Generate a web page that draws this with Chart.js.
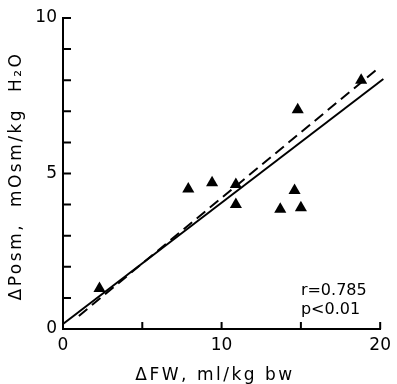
<!DOCTYPE html>
<html>
<head>
<meta charset="utf-8">
<script src="https://cdn.jsdelivr.net/npm/chart.js@4.4.0/dist/chart.umd.min.js"></script>
<style>
  html, body { margin: 0; padding: 0; background: #fff; }
  #wrap { width: 397px; height: 384px; }
</style>
</head>
<body>
<div id="wrap"><canvas id="fwChart"></canvas></div>
<script>
// measured points, delta FW vs delta Posm
var fwX   = [2.3, 7.9, 9.4, 10.9, 10.9, 13.7, 14.6, 15.0, 14.8, 18.8];
var posmY = [1.3, 4.5, 4.7, 4.65, 4.0, 3.85, 4.45, 3.9, 7.05, 8.0];

// regression lines (end points)
var solidX = [0, 20.2];
var solidY = [0.16, 8.04];
var dashX  = [1, 19.9];
var dashY  = [0.42, 8.39];

var xTickLabels = [0, 10, 20];
var yTickLabels = [0, 5, 10];
var statLines = ['r=0.785', 'p<0.01'];
var xTitle = 'ΔFW, ml/kg bw';
var yTitle = 'ΔPosm,  mOsm/kg  H₂O';

function toPts(xs, ys) {
  return xs.map(function (x, i) { return { x: x, y: ys[i] }; });
}

// inward tick marks + titles + r/p text
var extras = {
  id: 'extras',
  afterDraw: function (chart) {
    var ctx = chart.ctx;
    var xs = chart.scales.x, ys = chart.scales.y;
    var left = xs.left, bottom = ys.bottom;
    ctx.save();
    ctx.strokeStyle = '#000';
    ctx.lineWidth = 2;
    ctx.beginPath();
    xs.ticks.forEach(function (t) {
      var px = xs.getPixelForValue(t.value);
      if (t.value === 0) return;
      ctx.moveTo(px, bottom);
      ctx.lineTo(px, bottom - 7);
    });
    ys.ticks.forEach(function (t) {
      var py = ys.getPixelForValue(t.value);
      if (t.value === 0) return;
      ctx.moveTo(left, py);
      ctx.lineTo(left + 8, py);
    });
    ctx.stroke();

    ctx.fillStyle = '#000';
    ctx.font = '16px "DejaVu Sans"';
    ctx.textAlign = 'left';
    ctx.textBaseline = 'middle';
    ctx.fillText(statLines[0], xs.getPixelForValue(15.0), ys.getPixelForValue(1.24));
    ctx.fillText(statLines[1], xs.getPixelForValue(15.0), ys.getPixelForValue(0.62));

    ctx.letterSpacing = '2.5px';
    ctx.font = '17px "DejaVu Sans"';
    ctx.textAlign = 'center';
    ctx.fillText(xTitle, 215, 376);

    ctx.translate(17, 176);
    ctx.rotate(-Math.PI / 2);
    ctx.fillText(yTitle, 0, 0);
    ctx.restore();
  }
};

var ctx = document.getElementById('fwChart').getContext('2d');
new Chart(ctx, {
  type: 'scatter',
  data: {
    datasets: [
      {
        data: toPts(fwX, posmY),
        pointStyle: 'triangle',
        pointRadius: 7,
        backgroundColor: '#000',
        borderColor: '#000',
        borderWidth: 0
      },
      {
        data: toPts(solidX, solidY),
        showLine: true,
        borderColor: '#000',
        borderWidth: 2,
        pointRadius: 0,
        clip: false
      },
      {
        data: toPts(dashX, dashY),
        showLine: true,
        borderColor: '#000',
        borderWidth: 2,
        borderDash: [11, 6],
        pointRadius: 0,
        clip: false
      }
    ]
  },
  options: {
    responsive: true,
    maintainAspectRatio: false,
    animation: false,
    layout: { padding: { top: 18, right: 12, left: 0, bottom: 0 } },
    plugins: { legend: { display: false }, tooltip: { enabled: false } },
    scales: {
      x: {
        type: 'linear',
        min: 0, max: 20,
        grid: { display: false, drawTicks: false },
        border: { display: true, color: '#000', width: 2 },
        ticks: {
          stepSize: 5,
          padding: 6,
          color: '#000',
          font: { family: 'DejaVu Sans', size: 17 },
          maxRotation: 0,
          callback: function (v) { return xTickLabels.indexOf(v) >= 0 ? String(v) : ''; }
        },
        afterFit: function (s) { s.height = 55; }
      },
      y: {
        type: 'linear',
        min: 0, max: 10,
        grid: { display: false, drawTicks: false },
        border: { display: true, color: '#000', width: 2 },
        ticks: {
          stepSize: 1,
          padding: 6,
          color: '#000',
          font: { family: 'DejaVu Sans', size: 17 },
          callback: function (v) { return yTickLabels.indexOf(v) >= 0 ? String(v) : ''; }
        },
        afterFit: function (s) { s.width = 63; }
      }
    }
  },
  plugins: [extras]
});
</script>
</body>
</html>
